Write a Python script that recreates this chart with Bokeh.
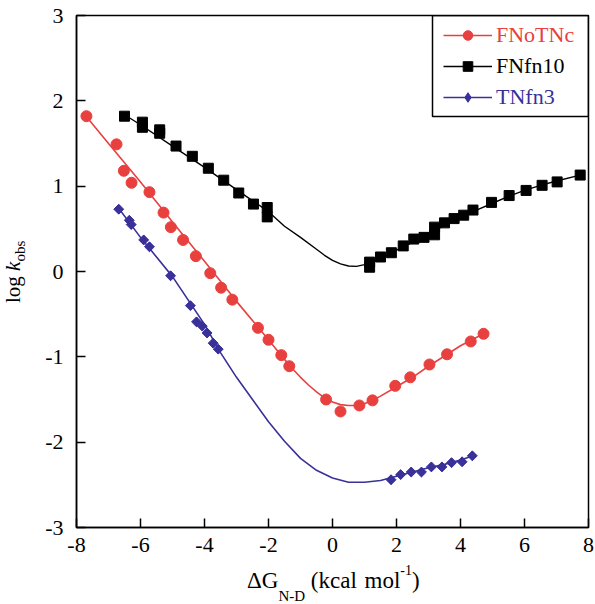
import math
from bokeh.plotting import figure
from bokeh.layouts import row, column
from bokeh.models import Range1d, FixedTicker, Legend, LegendItem, BoxAnnotation, Div
from bokeh.embed import file_html
from bokeh.resources import INLINE

# ---------------- data ----------------
fnotnc_x = [-7.69, -6.75, -6.52, -6.28, -5.72, -5.28, -5.05, -4.67, -4.27, -3.82, -3.48, -3.13,
            -2.33, -2.00, -1.60, -1.35, -0.20, 0.25, 0.84, 1.25, 1.96, 2.43, 3.03, 3.58, 4.32, 4.72]
fnotnc_y = [1.82, 1.49, 1.18, 1.04, 0.93, 0.69, 0.52, 0.37, 0.18, -0.02, -0.19, -0.33,
            -0.66, -0.80, -0.98, -1.11, -1.50, -1.64, -1.57, -1.51, -1.34, -1.24, -1.09, -0.97, -0.82, -0.73]

fnfn10_x = [-6.50, -5.94, -5.94, -5.40, -5.40, -4.89, -4.38, -3.88, -3.40, -2.93, -2.47, -2.04, -2.04,
            1.16, 1.16, 1.50, 1.84, 2.21, 2.54, 2.86, 3.19, 3.19, 3.50, 3.80, 4.10, 4.39, 4.97, 5.52,
            6.05, 6.55, 7.02, 7.74]
fnfn10_y = [1.82, 1.75, 1.69, 1.66, 1.62, 1.47, 1.35, 1.21, 1.07, 0.92, 0.79, 0.75, 0.64,
            0.11, 0.05, 0.17, 0.22, 0.30, 0.38, 0.40, 0.52, 0.43, 0.57, 0.62, 0.66, 0.72, 0.81, 0.89,
            0.95, 1.01, 1.05, 1.13]

tnfn3_x = [-6.68, -6.35, -6.29, -5.90, -5.72, -5.06, -4.44, -4.25, -4.07, -3.92, -3.73, -3.57,
           1.83, 2.13, 2.46, 2.78, 3.09, 3.42, 3.72, 4.05, 4.37]
tnfn3_y = [0.73, 0.60, 0.55, 0.37, 0.29, -0.05, -0.40, -0.59, -0.64, -0.72, -0.84, -0.91,
           -2.44, -2.38, -2.35, -2.35, -2.29, -2.29, -2.24, -2.23, -2.16]

# fitted curves
fnotnc_fit_x = [-7.7, -7.0, -6.0, -5.0, -4.0, -3.0, -2.0, -1.5, -1.25, -1.0, -0.75, -0.5, -0.25, 0.0,
                0.25, 0.5, 0.75, 1.0, 1.25, 1.5, 2.0, 2.5, 3.0, 3.5, 4.0, 4.72]
fnotnc_fit_y = [1.82, 1.50, 1.05, 0.58, 0.12, -0.35, -0.80, -1.03, -1.14, -1.24, -1.33, -1.41, -1.48, -1.53,
                -1.56, -1.57, -1.57, -1.55, -1.51, -1.46, -1.35, -1.24, -1.11, -0.99, -0.87, -0.73]

fnfn10_fit_x = [-6.6, -6.0, -5.0, -4.0, -3.0, -2.0, -1.5, -1.0, -0.5, -0.25, 0.0, 0.25, 0.5, 0.75,
                1.0, 1.25, 1.5, 2.0, 2.5, 3.0, 3.5, 4.0, 4.5, 5.0, 5.5, 6.0, 6.5, 7.0, 7.74]
fnfn10_fit_y = [1.86, 1.72, 1.47, 1.22, 0.96, 0.70, 0.53, 0.40, 0.26, 0.19, 0.13, 0.09, 0.065, 0.06,
                0.08, 0.12, 0.16, 0.25, 0.34, 0.44, 0.54, 0.63, 0.72, 0.80, 0.88, 0.95, 1.01, 1.06, 1.13]

tnfn3_fit_x = [-6.7, -6.0, -5.0, -4.0, -3.5, -3.0, -2.5, -2.0, -1.5, -1.0, -0.5, 0.0, 0.5, 1.0,
               1.5, 2.0, 2.5, 3.0, 3.5, 4.0, 4.4]
tnfn3_fit_y = [0.75, 0.40, -0.06, -0.62, -0.95, -1.24, -1.50, -1.76, -1.99, -2.19, -2.33, -2.42, -2.47, -2.47,
               -2.45, -2.40, -2.35, -2.30, -2.26, -2.21, -2.16]

x_ticks = [-8, -6, -4, -2, 0, 2, 4, 6, 8]
y_ticks = [-3, -2, -1, 0, 1, 2, 3]
series_names = ["FNoTNc", "FNfn10", "TNfn3"]

RED = "#E8403F"
BLACK = "#000000"
BLUE = "#39309A"
FONT = "Liberation Serif"

# ---------------- figure ----------------
p = figure(width=567, height=562, x_range=Range1d(-8, 8), y_range=Range1d(-3, 3),
           output_backend="svg", toolbar_location=None,
           min_border_left=48, min_border_right=7, min_border_top=15, min_border_bottom=35)
p.background_fill_color = "white"
p.border_fill_color = "white"
p.outline_line_color = "black"
p.outline_line_width = 1.5
p.xgrid.visible = False
p.ygrid.visible = False

for ax, ticks in ((p.xaxis[0], x_ticks), (p.yaxis[0], y_ticks)):
    ax.ticker = FixedTicker(ticks=ticks)
    ax.major_label_overrides = {t: str(t) for t in ticks}
    ax.minor_tick_line_color = None
    ax.major_tick_in = 9
    ax.major_tick_out = 0
    ax.major_tick_line_width = 1.5
    ax.axis_line_width = 1.5
    ax.major_label_text_font = FONT
    ax.major_label_text_font_size = "22px"
    ax.major_label_text_color = "black"
p.xaxis.major_label_standoff = 10
p.yaxis.major_label_standoff = 13

# curves
r_line = p.line(fnotnc_fit_x, fnotnc_fit_y, line_color=RED, line_width=1.6)
k_line = p.line(fnfn10_fit_x, fnfn10_fit_y, line_color=BLACK, line_width=1.4)
b_line = p.line(tnfn3_fit_x, tnfn3_fit_y, line_color=BLUE, line_width=1.6)

# markers
r_pts = p.scatter(fnotnc_x, fnotnc_y, marker="circle", size=11, fill_color=RED, line_color=RED)
k_pts = p.scatter(fnfn10_x, fnfn10_y, marker="square", size=10, fill_color=BLACK, line_color=BLACK)
# diamond markers (the legend key uses the narrow diamond, the plotted marks a rotated square over it)
b_key = p.scatter(tnfn3_x, tnfn3_y, marker="diamond", size=9, fill_color=BLUE, line_color=BLUE)
b_pts = p.scatter(tnfn3_x, tnfn3_y, marker="square", size=7, angle=math.pi / 4,
                  fill_color=BLUE, line_color=BLUE)

# legend box
p.add_layout(BoxAnnotation(left=356, right=512, top=512, bottom=411,
                           left_units="screen", right_units="screen",
                           top_units="screen", bottom_units="screen",
                           fill_alpha=0, line_color="black", line_width=1.5, line_alpha=1))

legend_specs = [
    (series_names[0], [r_line, r_pts], RED, 479),
    (series_names[1], [k_line, k_pts], BLACK, 448),
    (series_names[2], [b_line, b_key], BLUE, 417),
]
for name, rends, col, bottom in legend_specs:
    lg = Legend(items=[LegendItem(label=name, renderers=rends)], location=(367, bottom),
                padding=0, margin=0, spacing=0, border_line_color=None,
                background_fill_alpha=0, glyph_width=49, glyph_height=24,
                label_height=24, label_standoff=4, label_text_font=FONT,
                label_text_font_size="22px", label_text_color=col)
    p.add_layout(lg, "center")

# axis titles as HTML (sub/superscripts, italic k)
ylabel = Div(width=28, height=562, margin=0, text=(
    '<div style="position:relative; left:3px; top:303px; transform-origin:0 0; '
    'transform:rotate(-90deg); white-space:nowrap; width:max-content; '
    "font-family:'Liberation Serif'; font-size:21px; line-height:21px; color:black\">"
    'log <i>k</i><span style="position:relative; top:5px; font-size:15px">obs</span></div>'))

xlabel = Div(width=595, height=40, margin=0, text=(
    '<div style="position:relative; left:247px; top:7px; white-space:nowrap; width:max-content; '
    "font-family:'Liberation Serif'; font-size:23px; line-height:23px; color:black\">"
    '\u0394G<span style="position:relative; top:13px; font-size:15px">N-D</span> '
    '<span style="word-spacing:2px">(kcal mol</span>'
    '<span style="position:relative; top:-13px; font-size:14px">-1</span>)</div>'))

layout = column(row(ylabel, p), xlabel)
open("out.html", "w").write(file_html(layout, INLINE))
